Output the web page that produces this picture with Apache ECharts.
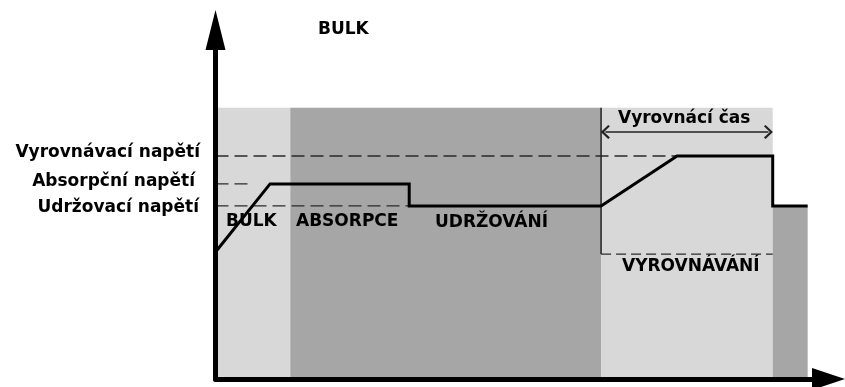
<!DOCTYPE html>
<html>
<head>
<meta charset="utf-8">
<script src="https://cdn.jsdelivr.net/npm/echarts@6/dist/echarts.min.js"></script>
<style>
  html, body { margin: 0; padding: 0; background: #fff; }
  #chart { width: 845px; height: 387px; }
</style>
</head>
<body>
<div id="chart"></div>
<script>
// osa x: čas 0..100, osa y: napětí 0..100 (relativní)
var levelNames = ['Vyrovnávací napětí', 'Absorpční napětí', 'Udržovací napětí'];
var levelValues = [63.9, 55.9, 49.6];
var levelLineEnd = [75.3, 5.6, 31.6];

// průběh nabíjení
var chargeX = [0, 8.9, 31.6, 31.6, 62.9, 75.3, 90.9, 90.9, 96.6];
var chargeY = [36.4, 55.9, 55.9, 49.6, 49.6, 63.9, 63.9, 49.6, 49.6];

// fáze (pozadí)
var bandStart = [0, 12.2, 62.9, 90.9];
var bandEnd = [12.2, 62.9, 90.9, 96.6];
var bandTop = [77.7, 77.7, 77.7, 49.6];
var bandDark = [false, true, false, true];

// okno vyrovnávání
var eqStart = 62.9;
var eqEnd = 90.9;
var eqBottom = 35.8;
var eqTimeLevel = 70.8;

var phaseNames = ['BULK', 'ABSORPCE', 'UDRŽOVÁNÍ', 'VYROVNÁVÁNÍ'];
var eqTimeName = 'Vyrovnácí čas';

var FONT = '"DejaVu Sans", "Noto Sans", sans-serif';
var LIGHT = '#d8d8d8', DARK = '#a6a6a6';

var myChart = echarts.init(document.getElementById('chart'));

function pairs(xs, ys) {
    var out = [];
    for (var i = 0; i < xs.length; i++) out.push([xs[i], ys[i]]);
    return out;
}

var bandData = [];
for (var i = 0; i < bandStart.length; i++) {
    bandData.push([
        { xAxis: bandStart[i], yAxis: 0, itemStyle: { color: bandDark[i] ? DARK : LIGHT } },
        { xAxis: bandEnd[i], yAxis: bandTop[i] }
    ]);
}

var series = [{
    name: 'pozadi',
    type: 'line',
    data: [[0, 0]],
    symbol: 'none',
    lineStyle: { opacity: 0 },
    z: 1,
    markArea: { silent: true, data: bandData }
}];

// čárkované úrovně napětí
for (var k = 0; k < levelValues.length; k++) {
    series.push({
        name: levelNames[k],
        type: 'line',
        data: [[0, levelValues[k]], [levelLineEnd[k], levelValues[k]]],
        symbol: 'none',
        z: 3,
        lineStyle: { color: '#2a2a2a', width: 1.3, type: [13, 6] }
    });
}

// spodní hrana okna vyrovnávání
series.push({
    type: 'line',
    data: [[eqStart, eqBottom], [eqEnd, eqBottom]],
    symbol: 'none',
    z: 3,
    lineStyle: { color: '#2a2a2a', width: 1.3, type: [10, 5] }
});
// svislá čára na začátku vyrovnávání
series.push({
    type: 'line',
    data: [[eqStart, eqBottom], [eqStart, bandTop[2]]],
    symbol: 'none',
    z: 3,
    lineStyle: { color: '#222', width: 1.5 }
});
// šipka vyrovnávací čas
var chevron = 'path://M10,0L20,9L18,11L10,3.8L2,11L0,9Z';
series.push({
    type: 'line',
    data: [[eqStart, eqTimeLevel]],
    symbol: 'none',
    lineStyle: { opacity: 0 },
    z: 3,
    markLine: {
        silent: true,
        symbol: [chevron, chevron],
        symbolSize: [14, 9],
        label: { show: false },
        lineStyle: { color: '#222', width: 1.6, type: 'solid' },
        data: [[{ coord: [eqStart + 0.7, eqTimeLevel] }, { coord: [eqEnd - 0.7, eqTimeLevel] }]]
    }
});
// hlavní průběh
series.push({
    name: 'nabijeni',
    type: 'line',
    data: pairs(chargeX, chargeY),
    symbol: 'none',
    z: 4,
    lineStyle: { color: '#000', width: 3, join: 'miter' }
});

function txt(text, x, y, align) {
    return {
        type: 'text',
        x: x,
        y: y,
        z: 100,
        style: {
            text: text,
            fill: '#000',
            font: 'bold 17px ' + FONT,
            textAlign: align || 'left',
            align: align || 'left',
            textVerticalAlign: 'middle',
            verticalAlign: 'middle'
        }
    };
}

var option = {
    animation: false,
    backgroundColor: '#fff',
    grid: { left: 215.5, right: 16.5, top: 30, bottom: 8 },
    xAxis: {
        type: 'value',
        min: 0,
        max: 100,
        z: 10,
        axisLine: {
            show: true,
            symbol: ['none', 'triangle'],
            symbolSize: [22, 33],
            lineStyle: { color: '#000', width: 5 }
        },
        axisTick: { show: false },
        axisLabel: { show: false },
        splitLine: { show: false }
    },
    yAxis: {
        type: 'value',
        min: 0,
        max: 100,
        z: 10,
        axisLine: {
            show: true,
            symbol: ['none', 'triangle'],
            symbolSize: [20, 40],
            lineStyle: { color: '#000', width: 5 }
        },
        axisTick: { show: false },
        axisLabel: { show: false },
        splitLine: { show: false }
    },
    graphic: [
        txt(phaseNames[0], 318, 30),
        txt(levelNames[0], 200, 153, 'right'),
        txt(levelNames[1], 195, 182, 'right'),
        txt(levelNames[2], 199, 208, 'right'),
        txt(phaseNames[0], 226, 222),
        txt(phaseNames[1], 296, 222),
        txt(phaseNames[2], 435, 223),
        txt(phaseNames[3], 622, 267),
        txt(eqTimeName, 618, 119)
    ],
    series: series
};

myChart.setOption(option);
</script>
</body>
</html>
